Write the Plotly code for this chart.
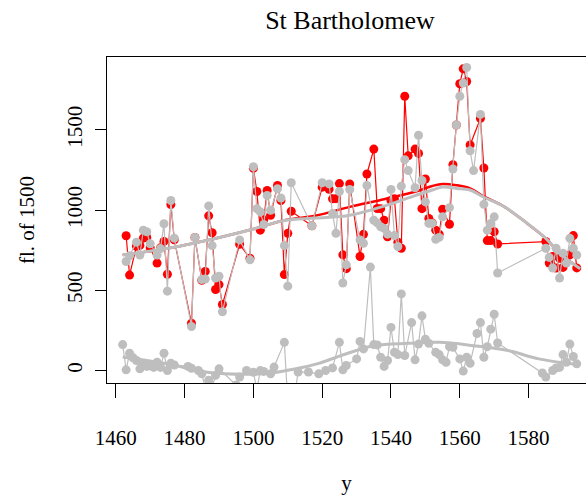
import plotly.graph_objects as go

# --- upper series: shared years, red = observed, grey = comparison ---
years = [1463, 1464, 1466, 1467, 1468, 1469, 1470, 1472, 1473, 1474, 1475, 1476, 1477,
         1482, 1483, 1485, 1486, 1487, 1488, 1489, 1490, 1491, 1496, 1499, 1500, 1501,
         1502, 1503, 1504, 1505, 1507, 1508, 1509, 1510, 1511, 1517, 1520, 1522, 1523,
         1524, 1525, 1526, 1527, 1528, 1531, 1532, 1533, 1535, 1536, 1537, 1538, 1539,
         1540, 1541, 1542, 1543, 1544, 1545, 1547, 1548, 1549, 1550, 1551, 1552, 1553,
         1554, 1555, 1557, 1558, 1559, 1560, 1561, 1562, 1563, 1564, 1566, 1567, 1568,
         1569, 1570, 1571, 1585, 1586, 1587, 1588, 1589, 1590, 1591, 1592, 1593, 1594]
red_vals = [840, 595, 775, 780, 825, 830, 765, 670, 765, 805, 600, 1035, 815,
            295, 830, 563, 618, 964, 859, 505, 536, 412, 787, 700, 1260, 1116,
            875, 940, 1122, 968, 1153, 1060, 598, 855, 993, 902, 1143, 1130, 1070,
            1071, 1165, 721, 635, 1163, 711, 849, 1225, 1380, 1010, 1009, 937, 834,
            1060, 1071, 800, 762, 1709, 1338, 1380, 1353, 1009, 1194, 948, 920, 875,
            850, 1005, 912, 1283, 1530, 1787, 1880, 1801, 1406, None, 1571, 1262, 810,
            810, 865, 789, 804, 670, 711, 639, 700, 643, 680, 721, 841, 640]
grey_vals = [680, 715, 800, 720, 875, 865, 790, 720, 760, 915, 495, 1060, 825,
             275, 830, 567, 570, 1026, 779, 577, 588, 367, 814, 690, 1270, 1009,
             989, 910, 1091, 999, 1133, 1075, 779, 526, 1170, 902, 1170, 1163, 978,
             855, 1116, 546, 659, 1128, 814, 793, 1153, 937, 920, 896, 886, 850,
             1128, 841, 773, 1149, 1314, 1246, 1139, 1466, 1184, 1051, 917, 917, 818,
             830, 958, 1015, 1256, 1530, 1709, 1791, 1888, 1369, 1246, 1596, 1036, 875,
             917, 958, 608, 762, 705, 639, 762, 577, 731, 670, 824, 762, 720]

# --- lower grey series ---
low_years = [1462, 1463, 1464, 1465, 1466, 1467, 1468, 1469, 1470, 1471, 1472, 1473, 1474,
             1475, 1476, 1477, 1481, 1482, 1484, 1485, 1486, 1487, 1488, 1489, 1490, 1495,
             1496, 1498, 1500, 1501, 1502, 1503, 1505, 1506, 1509, 1510, 1512, 1513, 1516,
             1519, 1521, 1523, 1525, 1526, 1527, 1530, 1531, 1532, 1534, 1535, 1536, 1537,
             1538, 1539, 1540, 1541, 1542, 1543, 1544, 1546, 1547, 1548, 1549, 1550, 1551,
             1553, 1554, 1555, 1556, 1557, 1558, 1560, 1561, 1562, 1563, 1565, 1566, 1567,
             1568, 1569, 1570, 1571, 1584, 1585, 1587, 1588, 1589, 1590, 1591, 1592, 1593,
             1594]
low_vals = [162, 5, 108, 80, 63, 11, 45, 26, 30, 20, 52, 20, 108,
            1, 46, 35, 26, 15, 1, -20, -110, -60, -100, -30, 11, -90,
            -40, 1, -10, -120, 0, -5, -20, 22, 176, -200, -150, -9, -9,
            -20, 1, 17, 176, 5, 32, 73, 182, 135, 645, 162, 160, 83,
            26, 63, 269, 114, 100, 478, 94, 299, 67, 165, 341, 196, 170,
            114, 100, 67, 52, 149, 145, 73, -3, 83, 46, 231, 299, 83,
            149, 258, 351, 172, -15, -40, 1, 17, 20, 100, 52, 165, 88,
            42]

# --- smoothed trend lines ---
sm_years = [1462, 1476, 1491, 1500, 1509, 1518, 1528, 1538, 1547, 1552, 1555, 1559,
            1563, 1567, 1573, 1579, 1585, 1589, 1595]
red_smooth = [720, 765, 834, 882, 937, 965, 1020, 1068, 1114, 1150, 1163, 1155,
              1135, 1085, 1020, 927, 824, 731, 635]
grey_smooth = [720, 765, 834, 882, 935, 950, 968, 1025, 1090, 1125, 1143, 1135,
               1125, 1080, 1020, 927, 824, 731, 635]
low_sm_years = [1462, 1476, 1486, 1499, 1505, 1512, 1519, 1525, 1535, 1545, 1554,
                1564, 1574, 1583, 1594]
low_smooth = [85, 38, -9, -23, -15, 10, 45, 90, 155, 170, 176, 155, 125, 73, 38]

RED = "#FF0000"
GREY = "#BEBEBE"
FONT = "Liberation Serif"

fig = go.Figure()

fig.add_trace(go.Scatter(x=years, y=red_vals, mode="lines+markers", connectgaps=True,
                         line=dict(color=RED, width=1.2),
                         marker=dict(color=RED, size=9)))
fig.add_trace(go.Scatter(x=sm_years, y=red_smooth, mode="lines",
                         line=dict(color=RED, width=2.5, shape="spline")))
fig.add_trace(go.Scatter(x=years, y=grey_vals, mode="lines+markers", connectgaps=True,
                         line=dict(color=GREY, width=1.2),
                         marker=dict(color=GREY, size=9)))
fig.add_trace(go.Scatter(x=sm_years, y=grey_smooth, mode="lines",
                         line=dict(color=GREY, width=3, shape="spline")))
fig.add_trace(go.Scatter(x=low_years, y=low_vals, mode="lines+markers",
                         line=dict(color=GREY, width=1.2),
                         marker=dict(color=GREY, size=9)))
fig.add_trace(go.Scatter(x=low_sm_years, y=low_smooth, mode="lines",
                         line=dict(color=GREY, width=3, shape="spline")))

fig.update_layout(
    width=586, height=495,
    margin=dict(l=107, r=0, t=57, b=109, pad=0),
    paper_bgcolor="white", plot_bgcolor="white",
    showlegend=False,
    font=dict(family=FONT, color="black", size=21),
    title=dict(text="St Bartholomew", x=350 / 586, xref="container", xanchor="center",
               y=1 - 20 / 495, yref="container", yanchor="middle",
               font=dict(family=FONT, size=26, color="black")),
    xaxis=dict(range=[1457.44, 1596.69], showgrid=False, zeroline=False,
               showline=True, linecolor="black", linewidth=1, mirror=True,
               ticks="outside", ticklen=14, tickwidth=1, tickcolor="black",
               tickvals=[1460, 1480, 1500, 1520, 1540, 1560, 1580],
               ticklabelstandoff=22,
               tickfont=dict(family=FONT, size=21),
               title=dict(text="y", standoff=30, font=dict(family=FONT, size=21))),
    yaxis=dict(range=[-77.2, 1953.7], showgrid=False, zeroline=False,
               showline=True, linecolor="black", linewidth=1,
               ticks="outside", ticklen=11, tickwidth=1, tickcolor="black",
               tickvals=[0, 500, 1000, 1500], tickangle=-90,
               ticklabelstandoff=5,
               tickfont=dict(family=FONT, size=21),
               title=dict(text="fl. of 1500", standoff=22, font=dict(family=FONT, size=21))),
)

fig.write_html("out.html")
